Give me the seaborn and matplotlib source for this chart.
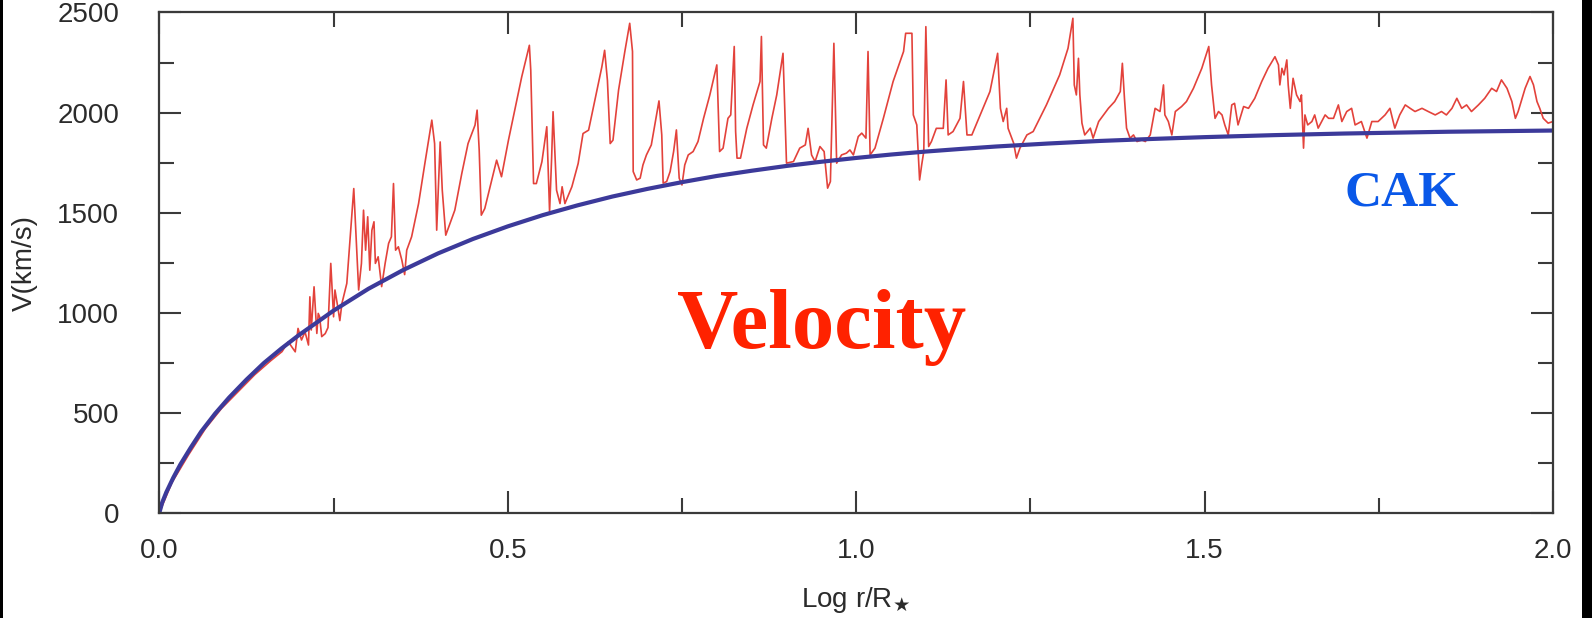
import matplotlib
matplotlib.use("Agg")
import matplotlib.pyplot as plt
from matplotlib.patches import Rectangle
from matplotlib.ticker import MultipleLocator
import pandas as pd
import seaborn as sns

# Time-dependent line-driven wind: velocity vs log radius
sim_logr = [
    0.000, 0.003, 0.018, 0.042, 0.066, 0.089, 0.113, 0.137, 0.160, 0.176,
    0.185, 0.190, 0.195, 0.199, 0.204, 0.209, 0.214, 0.216, 0.218, 0.222,
    0.226, 0.228, 0.230, 0.233, 0.238, 0.242, 0.246, 0.250, 0.252, 0.256,
    0.259, 0.262, 0.269, 0.276, 0.279, 0.283, 0.286, 0.290, 0.293, 0.296,
    0.299, 0.302, 0.305, 0.308, 0.310, 0.314, 0.319, 0.324, 0.329, 0.333,
    0.336, 0.339, 0.343, 0.348, 0.352, 0.355, 0.362, 0.372, 0.381, 0.391,
    0.395, 0.398, 0.403, 0.406, 0.411, 0.417, 0.424, 0.434, 0.443, 0.453,
    0.456, 0.459, 0.462, 0.467, 0.477, 0.484, 0.491, 0.501, 0.510, 0.520,
    0.531, 0.533, 0.537, 0.541, 0.549, 0.556, 0.560, 0.563, 0.565, 0.570,
    0.575, 0.578, 0.582, 0.592, 0.601, 0.608, 0.616, 0.625, 0.635, 0.639,
    0.643, 0.647, 0.651, 0.659, 0.668, 0.675, 0.679, 0.680, 0.685, 0.690,
    0.694, 0.699, 0.706, 0.711, 0.717, 0.721, 0.723, 0.728, 0.733, 0.738,
    0.742, 0.746, 0.750, 0.754, 0.759, 0.766, 0.773, 0.781, 0.790, 0.800,
    0.804, 0.809, 0.816, 0.820, 0.825, 0.827, 0.829, 0.834, 0.843, 0.852,
    0.862, 0.864, 0.867, 0.871, 0.879, 0.886, 0.895, 0.900, 0.910, 0.919,
    0.927, 0.931, 0.936, 0.941, 0.948, 0.954, 0.959, 0.963, 0.968, 0.972,
    0.979, 0.986, 0.991, 0.996, 1.003, 1.008, 1.014, 1.017, 1.020, 1.027,
    1.039, 1.053, 1.068, 1.071, 1.080, 1.082, 1.087, 1.091, 1.094, 1.097,
    1.100, 1.104, 1.108, 1.115, 1.125, 1.129, 1.132, 1.139, 1.149, 1.154,
    1.159, 1.166, 1.178, 1.192, 1.203, 1.207, 1.211, 1.216, 1.218, 1.226,
    1.230, 1.235, 1.245, 1.254, 1.273, 1.292, 1.304, 1.311, 1.313, 1.316,
    1.319, 1.321, 1.324, 1.328, 1.336, 1.340, 1.348, 1.355, 1.362, 1.371,
    1.379, 1.382, 1.385, 1.388, 1.393, 1.398, 1.403, 1.410, 1.415, 1.422,
    1.429, 1.436, 1.441, 1.443, 1.448, 1.453, 1.458, 1.467, 1.474, 1.484,
    1.496, 1.506, 1.510, 1.515, 1.520, 1.525, 1.529, 1.534, 1.539, 1.543,
    1.548, 1.556, 1.563, 1.572, 1.582, 1.591, 1.601, 1.606, 1.608, 1.611,
    1.614, 1.618, 1.620, 1.623, 1.627, 1.632, 1.637, 1.639, 1.642, 1.644,
    1.648, 1.654, 1.658, 1.663, 1.668, 1.673, 1.678, 1.685, 1.692, 1.697,
    1.704, 1.711, 1.716, 1.725, 1.733, 1.740, 1.749, 1.759, 1.766, 1.773,
    1.780, 1.788, 1.795, 1.802, 1.812, 1.821, 1.831, 1.840, 1.847, 1.855,
    1.862, 1.869, 1.876, 1.883, 1.893, 1.902, 1.912, 1.919, 1.926, 1.934,
    1.941, 1.946, 1.950, 1.960, 1.967, 1.972, 1.977, 1.981, 1.986, 1.993,
    2.000,
]
sim_vel = [
    0, 25, 150, 290, 420, 520, 605, 690, 760, 805,
    854, 829, 804, 921, 863, 904, 838, 1079, 913, 1129,
    896, 996, 979, 880, 895, 925, 1246, 979, 1113, 1029,
    960, 1046, 1146, 1479, 1620, 1329, 1113, 1246, 1512, 1312,
    1479, 1212, 1412, 1454, 1246, 1279, 1130, 1246, 1346, 1379,
    1645, 1312, 1329, 1262, 1190, 1312, 1379, 1545, 1745, 1962,
    1845, 1412, 1853, 1612, 1387, 1445, 1512, 1695, 1845, 1937,
    2012, 1812, 1487, 1520, 1662, 1762, 1679, 1862, 2012, 2178,
    2336, 2211, 1645, 1645, 1754, 1929, 1504, 1779, 2004, 1612,
    1545, 1629, 1545, 1629, 1745, 1895, 1912, 2062, 2228, 2311,
    2161, 1845, 1862, 2112, 2305, 2446, 2305, 1705, 1663, 1672,
    1738, 1788, 1838, 1938, 2058, 1888, 1647, 1655, 1705, 1805,
    1913, 1672, 1638, 1738, 1788, 1805, 1855, 1971, 2088, 2238,
    1805, 1822, 1971, 1988, 2330, 1905, 1772, 1772, 1921, 2038,
    2155, 2380, 1838, 1822, 1971, 2088, 2296, 1747, 1755, 1822,
    1838, 1921, 1788, 1755, 1830, 1805, 1622, 1655, 2346, 1747,
    1788, 1797, 1813, 1788, 1880, 1897, 1872, 2305, 1788, 1822,
    1971, 2155, 2305, 2396, 2396, 1988, 1938, 1663, 1738, 1805,
    2429, 1830, 1855, 1921, 1921, 2163, 1888, 1905, 1971, 2155,
    1888, 1888, 1988, 2105, 2296, 2021, 1955, 2021, 1921, 1847,
    1772, 1822, 1888, 1905, 2038, 2188, 2321, 2471, 2138, 2088,
    2271, 2088, 1947, 1888, 1922, 1872, 1955, 1988, 2021, 2055,
    2105, 2246, 2071, 1922, 1872, 1888, 1855, 1863, 1855, 1888,
    2021, 2005, 2138, 1988, 1955, 1888, 2005, 2030, 2055, 2121,
    2221, 2330, 2138, 1971, 2005, 1988, 1938, 1888, 2038, 2046,
    1938, 2030, 2021, 2071, 2155, 2221, 2279, 2238, 2138, 2221,
    2188, 2263, 2138, 2021, 2171, 2088, 2055, 2088, 1822, 1988,
    1938, 1955, 1988, 1922, 1955, 1988, 1971, 1971, 2038, 1955,
    2005, 2021, 1938, 1955, 1872, 1955, 1955, 1988, 2021, 1922,
    1988, 2038, 2021, 2005, 2021, 2005, 1988, 2005, 1988, 2021,
    2071, 2021, 2038, 2005, 2038, 2071, 2121, 2105, 2163, 2121,
    2055, 1971, 2005, 2121, 2180, 2138, 2055, 2021, 1971, 1947,
    1955,
]

# Steady CAK solution
cak_logr = [
    0.000, 0.004, 0.010, 0.020, 0.030, 0.045, 0.060, 0.080, 0.100, 0.125,
    0.150, 0.175, 0.200, 0.250, 0.300, 0.350, 0.400, 0.450, 0.500, 0.550,
    0.600, 0.650, 0.700, 0.750, 0.800, 0.850, 0.900, 0.950, 1.000, 1.050,
    1.100, 1.150, 1.200, 1.275, 1.350, 1.425, 1.500, 1.600, 1.700, 1.850,
    2.000,
]
cak_vel = [
    0, 50, 102, 175, 240, 325, 405, 495, 575, 665,
    748, 820, 887, 1010, 1119, 1213, 1296, 1368, 1431, 1487,
    1536, 1580, 1618, 1652, 1683, 1709, 1733, 1754, 1773, 1790,
    1805, 1818, 1830, 1845, 1858, 1868, 1877, 1887, 1895, 1904,
    1910,
]

x_ticks = [0.0, 0.5, 1.0, 1.5, 2.0]
x_ticklabels = ["0.0", "0.5", "1.0", "1.5", "2.0"]
y_ticks = [0, 500, 1000, 1500, 2000, 2500]

sim = pd.DataFrame({"logr": sim_logr, "v": sim_vel})
cak = pd.DataFrame({"logr": cak_logr, "v": cak_vel})

sns.set_style("ticks")
plt.rcParams["font.family"] = ["Liberation Sans", "DejaVu Sans"]
plt.rcParams["mathtext.fontset"] = "dejavusans"

fig = plt.figure(figsize=(15.92, 6.18), dpi=100, facecolor="white")
ax = fig.add_axes([0.1001, 0.1704, 0.8754, 0.8094])

sns.lineplot(data=sim, x="logr", y="v", ax=ax, estimator=None, sort=False,
             color="#E3423B", linewidth=1.2)
sns.lineplot(data=cak, x="logr", y="v", ax=ax, estimator=None, sort=False,
             color="#3C3A9A", linewidth=3.0)

ax.set_xlim(0.0, 2.0)
ax.set_ylim(0, 2500)
ax.set_xticks(x_ticks)
ax.set_xticklabels(x_ticklabels)
ax.set_yticks(y_ticks)
ax.xaxis.set_minor_locator(MultipleLocator(0.25))
ax.yaxis.set_minor_locator(MultipleLocator(250))

text_color = "#2b2b2b"
ax.tick_params(axis="both", which="both", direction="in", top=True, right=True,
               color="#3a3a3a", width=1.5)
ax.tick_params(axis="both", which="major", length=16, labelsize=20,
               labelcolor=text_color)
ax.tick_params(axis="both", which="minor", length=11)
ax.tick_params(axis="x", which="major", pad=18)
ax.tick_params(axis="y", which="major", pad=29)

for side in ax.spines.values():
    side.set_color("#3a3a3a")
    side.set_linewidth(1.6)

ax.set_xlabel(r"Log r/R$_{\bigstar}$", fontsize=20, color=text_color,
              labelpad=15)
ax.set_ylabel("V(km/s)", fontsize=20, color=text_color, labelpad=14)

fig.text(0.4255, 0.4370, "Velocity", family="Liberation Serif", weight="bold",
         fontsize=61, color="#FF2200", ha="left", va="baseline")
fig.text(0.8445, 0.6670, "CAK", family="Liberation Serif", weight="bold",
         fontsize=37, color="#0A58E8", ha="left", va="baseline")

# dark frame strips at the left and right edges
fig.patches.append(Rectangle((0, 0), 3 / 1592, 1, transform=fig.transFigure,
                             facecolor="black", edgecolor="none", zorder=10))
fig.patches.append(Rectangle((1582 / 1592, 0), 10 / 1592, 1,
                             transform=fig.transFigure, facecolor="black",
                             edgecolor="none", zorder=10))

fig.savefig("out.png", dpi=100, facecolor="white")
